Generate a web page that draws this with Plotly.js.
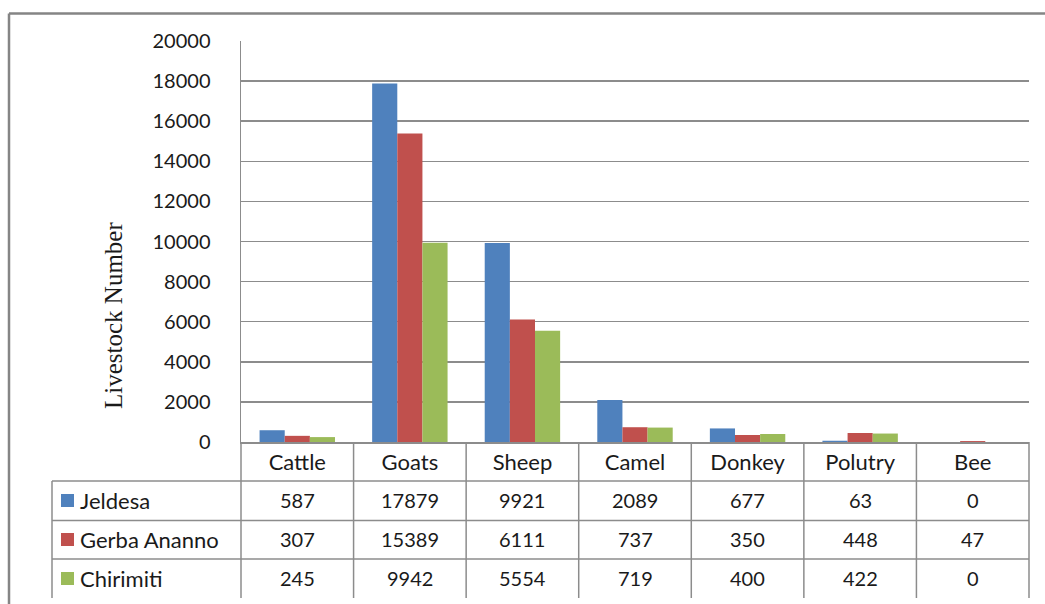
<!DOCTYPE html>
<html>
<head>
<meta charset="utf-8">
<script src="https://cdn.plot.ly/plotly-3.0.1.min.js"></script>
<style>html,body{margin:0;padding:0;background:#fff;}#chart{width:1045px;height:604px;}</style>
</head>
<body>
<div id="chart"></div>
<script>
const categories = ["Cattle", "Goats", "Sheep", "Camel", "Donkey", "Polutry", "Bee"];
const seriesNames = ["Jeldesa", "Gerba Ananno", "Chirimiti"];
const jeldesa = [587, 17879, 9921, 2089, 677, 63, 0];
const gerbaAnanno = [307, 15389, 6111, 737, 350, 448, 47];
const chirimiti = [245, 9942, 5554, 719, 400, 422, 0];
const yTicks = [0, 2000, 4000, 6000, 8000, 10000, 12000, 14000, 16000, 18000, 20000];
const yTitle = "Livestock Number";
const colors = ["#4F81BD", "#C0504D", "#9BBB59"];
const seriesValues = [jeldesa, gerbaAnanno, chirimiti];

// layout geometry (pixels -> paper)
const W = 1045, H = 604;
const L = 241, R = 1029, T = 41, B = 442;
const px = x => (x - L) / (R - L);
const py = y => (B - y) / (B - T);

const lineColor = "#8c8c8c";
const numFont = {family: "Lato, 'Open Sans', sans-serif", size: 20, color: "#1a1a1a"};
const labelFont = {family: "Lato, 'Open Sans', sans-serif", size: 22, color: "#1a1a1a"};

const traces = seriesValues.map((vals, i) => ({
  type: "bar",
  name: seriesNames[i],
  x: categories,
  y: vals,
  marker: {color: colors[i], line: {width: 0}},
  hoverinfo: "x+y+name"
}));

const rowCenters = [500, 539, 578];
const rowLines = [481, 520.5, 559];
const tableBottom = 598;

const shapes = [];
const annotations = [];

// outer frame
shapes.push({type: "line", xref: "paper", yref: "paper", x0: px(9), x1: px(1050), y0: py(13.5), y1: py(13.5), line: {color: "#858585", width: 2.5}});
shapes.push({type: "line", xref: "paper", yref: "paper", x0: px(9), x1: px(9), y0: py(13.5), y1: py(610), line: {color: "#858585", width: 2.5}});

// table horizontal lines
rowLines.forEach(y => {
  shapes.push({type: "line", xref: "paper", yref: "paper", x0: px(52), x1: 1, y0: py(y), y1: py(y), line: {color: lineColor, width: 1.5}});
});
// table vertical lines
shapes.push({type: "line", xref: "paper", yref: "paper", x0: px(52), x1: px(52), y0: py(481), y1: py(tableBottom), line: {color: lineColor, width: 1.5}});
for (let k = 0; k <= categories.length; k++) {
  shapes.push({type: "line", xref: "paper", yref: "paper", x0: k / categories.length, x1: k / categories.length,
    y0: 0, y1: py(tableBottom), line: {color: lineColor, width: 1.5}});
}

// legend keys + names + values
seriesNames.forEach((name, i) => {
  const cy = rowCenters[i];
  shapes.push({type: "rect", xref: "paper", yref: "paper", x0: px(61), x1: px(74), y0: py(cy - 6), y1: py(cy + 7),
    fillcolor: colors[i], line: {width: 0}});
  annotations.push({xref: "paper", yref: "paper", x: px(78), y: py(cy), xanchor: "left", yanchor: "middle",
    text: name, showarrow: false, font: labelFont});
  seriesValues[i].forEach((v, j) => {
    annotations.push({xref: "x", yref: "paper", x: categories[j], y: py(cy), xanchor: "center", yanchor: "middle",
      text: String(v), showarrow: false, font: numFont});
  });
});

// y-axis title (offset vertically as in reference)
annotations.push({xref: "paper", yref: "paper", x: px(113), y: py(316), xanchor: "center", yanchor: "middle",
  textangle: -90, text: yTitle, showarrow: false,
  font: {family: "'Liberation Serif', 'Times New Roman', serif", size: 25, color: "#1a1a1a"}});

const layout = {
  width: W, height: H,
  margin: {l: L, r: W - R, t: T, b: H - B, pad: 0},
  paper_bgcolor: "#ffffff",
  plot_bgcolor: "#ffffff",
  barmode: "group",
  bargap: 0.33,
  bargroupgap: 0,
  showlegend: false,
  font: numFont,
  xaxis: {
    type: "category",
    range: [-0.5, categories.length - 0.5],
    showgrid: false,
    zeroline: false,
    showline: true,
    linecolor: lineColor,
    linewidth: 1.5,
    ticks: "",
    tickfont: labelFont,
    ticklabelstandoff: 0,
    fixedrange: true
  },
  yaxis: {
    range: [0, 20000],
    tickvals: yTicks,
    ticktext: yTicks.map(String),
    showgrid: true,
    gridcolor: lineColor,
    gridwidth: 1.5,
    zeroline: false,
    showline: true,
    linecolor: lineColor,
    linewidth: 1.5,
    ticks: "",
    tickfont: numFont,
    ticklabelstandoff: 25,
    fixedrange: true
  },
  shapes: shapes,
  annotations: annotations
};

Plotly.newPlot("chart", traces, layout, {displayModeBar: false, staticPlot: true});
</script>
</body>
</html>
